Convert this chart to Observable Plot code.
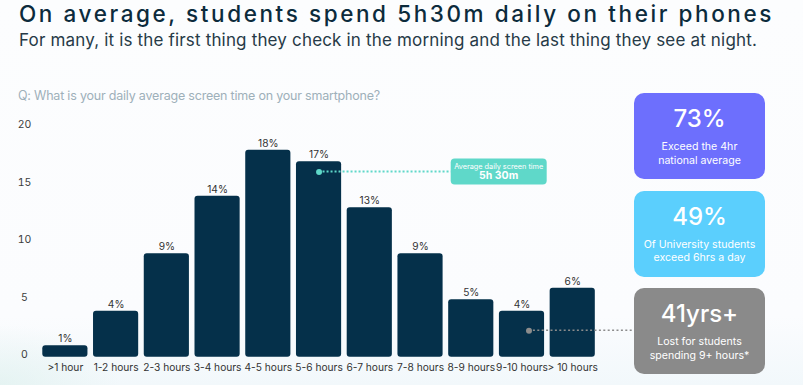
<!DOCTYPE html>
<html>
<head>
<meta charset="utf-8">
<script src="https://cdn.jsdelivr.net/npm/d3@7"></script>
<script src="https://cdn.jsdelivr.net/npm/@observablehq/plot@0.6"></script>
<style>
  html, body { margin: 0; padding: 0; }
  body { width: 803px; height: 385px; overflow: hidden; font-family: Inter, "Noto Sans", sans-serif; }
  #wrap { position: relative; width: 803px; height: 385px;
    background:
      radial-gradient(ellipse 120px 60px at 0px 385px, rgba(220,240,236,0.6), rgba(255,255,255,0)),
      linear-gradient(180deg, #fcfdfe 0%, #fbfcfe 82%, #f2f8fb 100%);
  }
  .t { position: absolute; white-space: nowrap; }
  #title { left: 19px; top: 0.5px; font-size: 22.5px; line-height: 26px; font-weight: 500; color: #0c2b3c; }
  #subtitle { left: 19px; top: 30px; font-size: 17px; line-height: 20px; color: #263a47; }
  #question { left: 18px; top: 88px; font-size: 12.5px; line-height: 16px; color: #9eb0ba; }
  #chart { position: absolute; left: 0; top: 100px; }
  .stat { position: absolute; left: 634px; width: 131px; height: 86px; border-radius: 10px; color: #fff; text-align: center; }
  .stat .big { position: absolute; left: 0; right: 0; top: 12px; font-size: 24px; line-height: 28px; font-weight: 500; }
  .stat .l1 { position: absolute; left: 0; right: 0; top: 47px; font-size: 10.6px; line-height: 14px; }
  .stat .l2 { position: absolute; left: 0; right: 0; top: 60.5px; font-size: 10.6px; line-height: 14px; }
</style>
</head>
<body>
<div id="wrap">
  <div class="t" id="title"></div>
  <div class="t" id="subtitle"></div>
  <div class="t" id="question"></div>
  <div id="chart"></div>
</div>
<script>
// ---- data ----
const titleText = "On average, students spend 5h30m daily on their phones";
const subtitleText = "For many, it is the first thing they check in the morning and the last thing they see at night.";
const questionText = "Q: What is your daily average screen time on your smartphone?";
const categories = [">1 hour", "1-2 hours", "2-3 hours", "3-4 hours", "4-5 hours", "5-6 hours", "6-7 hours", "7-8 hours", "8-9 hours", "9-10 hours", "> 10 hours"];
const shares = [1, 4, 9, 14, 18, 17, 13, 9, 5, 4, 6];
const yTicks = [0, 5, 10, 15, 20];
const avgCategory = "5-6 hours";
const avgLevel = 16.1;
const avgLabel = "Average daily screen time";
const avgValue = "5h 30m";
const lostCategory = "9-10 hours";
const lostLevel = 2.3;
const statValues = ["73%", "49%", "41yrs+"];
const statLine1 = ["Exceed the 4hr", "Of University students", "Lost for students"];
const statLine2 = ["national average", "exceed 6hrs a day", "spending 9+ hours*"];

// ---- layout / style ----
const statColors = ["#6d6ffd", "#5bcffd", "#8a8a8a"];
const statTops = [93, 190.5, 288];
const teal = "#5fd8c9";
const grey = "#8c8c8c";

document.getElementById("title").textContent = titleText;
document.getElementById("subtitle").textContent = subtitleText;
document.getElementById("question").textContent = questionText;

function fit(id, target) {
  const el = document.getElementById(id);
  const w = el.getBoundingClientRect().width;
  const n = el.textContent.length;
  el.style.letterSpacing = ((target - w) / n) + "px";
}
fit("title", 755);
fit("subtitle", 738);
fit("question", 362);

const data = categories.map((c, i) => ({cat: c, v: shares[i]}));

const plot = Plot.plot({
  width: 803,
  height: 285,
  marginLeft: 39.5,
  marginRight: 205.4,
  marginTop: 26.7,
  marginBottom: 28.3,
  style: {background: "transparent", fontFamily: "Inter, 'Noto Sans', sans-serif", overflow: "visible"},
  x: {domain: categories, paddingInner: 0.11, paddingOuter: 0.055, round: false, label: null},
  y: {domain: [0, 20], label: null},
  marks: [
    Plot.axisY({ticks: yTicks, tickSize: 0, tickPadding: 15.5, textAnchor: "middle", dy: -2.5, fontSize: 10.5, fill: "#3c3c3c", label: null}),
    Plot.axisX({tickSize: 0, tickPadding: 7, fontSize: 10.2, fill: "#333", label: null}),
    Plot.barY(data, {x: "cat", y: "v", fill: "#05304a", rx: 3}),
    Plot.text(data, {x: "cat", y: "v", text: d => d.v + "%", dy: -6.5, fontSize: 10.2, fill: "#333"}),
    Plot.dot([{cat: avgCategory, v: avgLevel}], {x: "cat", y: "v", r: 3, fill: teal}),
    Plot.dot([{cat: lostCategory, v: lostLevel}], {x: "cat", y: "v", r: 3, fill: grey, dx: 7})
  ]
});
document.getElementById("chart").appendChild(plot);

// connectors & annotation box, positioned through the plot's scales
const sx = plot.scale("x"), sy = plot.scale("y");
const svg = d3.select(plot);
const firstDot = plot.querySelector('g[aria-label="dot"]');
const ax = sx.apply(avgCategory) + sx.bandwidth / 2;
const ay = sy.apply(avgLevel);
const lx = sx.apply(lostCategory) + sx.bandwidth / 2 + 7;
const ly = sy.apply(lostLevel);
const boxX = 450.7;

const g = d3.create("svg:g");
g.append("line").attr("x1", ax).attr("x2", boxX).attr("y1", ay).attr("y2", ay)
  .attr("stroke", teal).attr("stroke-width", 2).attr("stroke-dasharray", "2 2");
g.append("line").attr("x1", lx).attr("x2", 634).attr("y1", ly).attr("y2", ly)
  .attr("stroke", grey).attr("stroke-width", 1.6).attr("stroke-dasharray", "2 2.4");
plot.insertBefore(g.node(), firstDot);

const ab = svg.append("g");
ab.append("rect").attr("x", boxX).attr("y", ay - 13).attr("width", 96).attr("height", 26).attr("rx", 4).attr("fill", teal);
ab.append("text").attr("x", boxX + 48).attr("y", ay - 5).attr("text-anchor", "middle").attr("dominant-baseline", "middle")
  .attr("fill", "#fff").attr("font-size", 7.3).text(avgLabel);
ab.append("text").attr("x", boxX + 48).attr("y", ay + 5).attr("text-anchor", "middle").attr("dominant-baseline", "middle")
  .attr("fill", "#fff").attr("font-size", 10.5).attr("font-weight", 700).text(avgValue);

// stat cards
const wrap = document.getElementById("wrap");
statValues.forEach((s, i) => {
  const d = document.createElement("div");
  d.className = "stat";
  d.style.top = statTops[i] + "px";
  d.style.background = statColors[i];
  d.innerHTML = `<div class="big"></div><div class="l1"></div><div class="l2"></div>`;
  d.querySelector(".big").textContent = s;
  d.querySelector(".l1").textContent = statLine1[i];
  d.querySelector(".l2").textContent = statLine2[i];
  wrap.appendChild(d);
});
</script>
</body>
</html>
